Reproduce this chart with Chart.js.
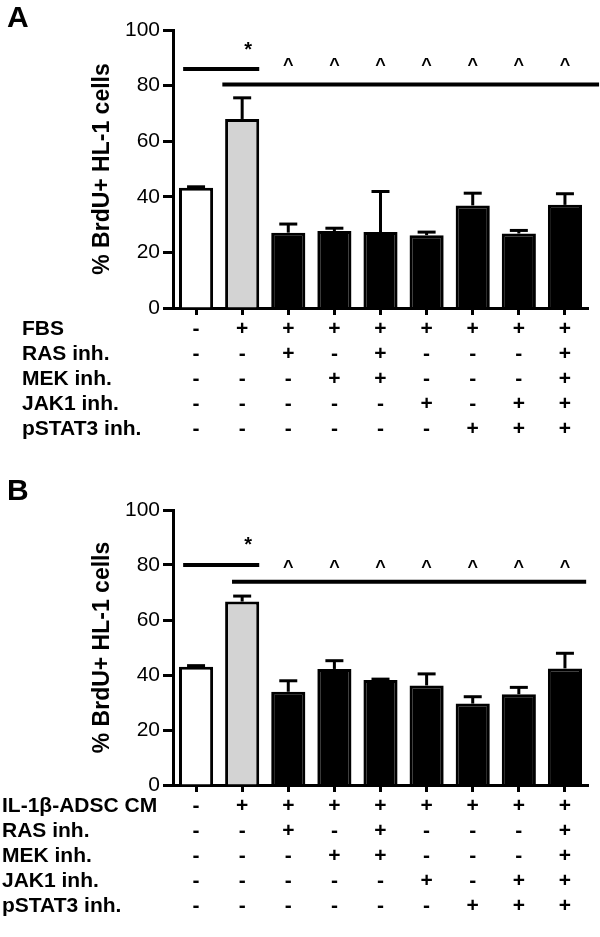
<!DOCTYPE html>
<html><head><meta charset="utf-8">
<script src="https://cdn.jsdelivr.net/npm/chart.js@4.4.1/dist/chart.umd.min.js"></script>
<style>
html,body{margin:0;padding:0;background:#fff;}
body{width:600px;height:937px;position:relative;overflow:hidden;font-family:"Liberation Sans",Arial,sans-serif;}
canvas{position:absolute;left:0;}
#ca{top:0;}
#cb{top:470px;}
.lbl{position:absolute;left:7px;font-weight:bold;font-size:30px;line-height:30px;color:#000;}
</style></head><body>
<canvas id="ca" width="600" height="470"></canvas>
<canvas id="cb" width="600" height="467"></canvas>
<div class="lbl" style="top:2px">A</div>
<div class="lbl" style="top:475px">B</div>
<script>
// ---- data ----
const categories = ['1','2','3','4','5','6','7','8','9'];
const rowLabelsA = ['FBS','RAS inh.','MEK inh.','JAK1 inh.','pSTAT3 inh.'];
const rowLabelsB = ['IL-1β-ADSC CM','RAS inh.','MEK inh.','JAK1 inh.','pSTAT3 inh.'];
const stimulus = ['-','+','+','+','+','+','+','+','+'];
const rasInh   = ['-','-','+','-','+','-','-','-','+'];
const mekInh   = ['-','-','-','+','+','-','-','-','+'];
const jak1Inh  = ['-','-','-','-','-','+','-','+','+'];
const pstat3Inh= ['-','-','-','-','-','-','+','+','+'];
const meanA = [43.3, 68.0, 27.1, 27.7, 27.3, 26.2, 36.9, 26.8, 37.1];
const errA  = [0.3, 7.6, 3.1, 1.0, 14.6, 1.1, 4.4, 1.1, 4.0];
const meanB = [43.0, 66.7, 33.9, 42.2, 38.2, 36.2, 29.6, 33.0, 42.4];
const errB  = [0.4, 2.0, 4.0, 3.0, 0.3, 4.2, 2.5, 2.5, 5.5];
const yTicks = [0, 20, 40, 60, 80, 100];
// significance annotations: [fromIndex, toIndex, value]
const sigLinesA = [[-0.28, 1.37, 86.0], [0.57, 8.74, 80.4]];
const sigLinesB = [[-0.28, 1.37, 80.0], [0.78, 8.46, 73.9]];
const starA = [1.13, 92.5];
const starB = [1.13, 87];
const caretIdx = [2, 3, 4, 5, 6, 7, 8];
const caretValA = 87.0;
const caretValB = 79.0;

const fills = ['#ffffff', '#d3d3d3', '#000', '#000', '#000', '#000', '#000', '#000', '#000'];
const FONT = '"Liberation Sans", Arial, sans-serif';
const ROW_LH = 25;

function makeChart(canvasId, means, errs, rowLabels, rowLabelX, sigLines, star, caretVal, chartTop, chartBottom, canvasH) {
  const labels = categories.map((c, i) => [stimulus[i], rasInh[i], mekInh[i], jak1Inh[i], pstat3Inh[i]]);
  const annot = {
    id: 'annot',
    afterDatasetsDraw(chart) {
      const ctx = chart.ctx, xs = chart.scales.x, ys = chart.scales.y;
      const step = xs.getPixelForValue(1) - xs.getPixelForValue(0);
      const xAt = v => xs.getPixelForValue(0) + v * step;
      ctx.save();
      // error bars (upper)
      ctx.strokeStyle = '#000'; ctx.lineWidth = 3; ctx.lineCap = 'butt';
      means.forEach((m, i) => {
        const x = xs.getPixelForValue(i);
        const y0 = ys.getPixelForValue(m), y1 = ys.getPixelForValue(m + errs[i]);
        ctx.beginPath(); ctx.moveTo(x, y0); ctx.lineTo(x, y1); ctx.stroke();
        ctx.beginPath(); ctx.moveTo(x - 9, y1); ctx.lineTo(x + 9, y1); ctx.stroke();
      });
      // significance lines
      ctx.lineWidth = 4;
      sigLines.forEach(([a, b, v]) => {
        const y = ys.getPixelForValue(v);
        ctx.beginPath(); ctx.moveTo(xAt(a), y); ctx.lineTo(xAt(b), y); ctx.stroke();
      });
      ctx.fillStyle = '#000'; ctx.textAlign = 'center'; ctx.textBaseline = 'middle';
      ctx.font = 'bold 20px ' + FONT;
      ctx.fillText('*', xAt(star[0]), ys.getPixelForValue(star[1]));
      ctx.font = 'bold 18px ' + FONT;
      caretIdx.forEach(i => ctx.fillText('^', xs.getPixelForValue(i), ys.getPixelForValue(caretVal)));
      // row labels
      const tl = 7, pad = 2;
      ctx.font = 'bold 21px ' + FONT; ctx.textAlign = 'left';
      rowLabels.forEach((t, j) => {
        ctx.fillText(t, rowLabelX, xs.top + tl + pad + ROW_LH * (j + 0.5));
      });
      ctx.restore();
    }
  };
  return new Chart(document.getElementById(canvasId), {
    type: 'bar',
    data: {
      labels: labels,
      datasets: [{
        data: means,
        backgroundColor: fills,
        borderColor: '#000',
        borderWidth: 3,
        barPercentage: 0.74,
        categoryPercentage: 1.0
      }]
    },
    options: {
      responsive: false, animation: false, devicePixelRatio: 1,
      layout: { padding: { left: 89, right: 12, top: chartTop, bottom: 0 } },
      plugins: { legend: { display: false }, tooltip: { enabled: false } },
      scales: {
        x: {
          offset: true,
          grid: { display: true, drawOnChartArea: false, offset: false, tickLength: 7, tickWidth: 3, tickColor: '#000' },
          border: { display: true, color: '#000', width: 3 },
          ticks: { color: '#000', padding: 2, maxRotation: 0, autoSkip: false,
                   font: { family: FONT, size: 21, weight: 'bold', lineHeight: ROW_LH / 21 } },
          afterFit: s => { s.height = canvasH - chartBottom; }
        },
        y: {
          min: 0, max: 100,
          afterBuildTicks: s => { s.ticks = yTicks.map(v => ({ value: v })); },
          grid: { display: true, drawOnChartArea: false, tickLength: 10, tickWidth: 3, tickColor: '#000' },
          border: { display: true, color: '#000', width: 3 },
          ticks: { color: '#000', padding: 3, font: { family: FONT, size: 21 } },
          title: { display: true, text: '% BrdU+ HL-1 cells', color: '#000', padding: 0,
                   font: { family: FONT, size: 23, weight: 'bold', lineHeight: 1.2 } },
          afterFit: s => { s.width = 84; }
        }
      }
    },
    plugins: [annot]
  });
}

makeChart('ca', meanA, errA, rowLabelsA, 22, sigLinesA, starA, caretValA, 30, 308, 470);
makeChart('cb', meanB, errB, rowLabelsB, 2, sigLinesB, starB, caretValB, 40, 315, 467);
</script>
</body></html>
